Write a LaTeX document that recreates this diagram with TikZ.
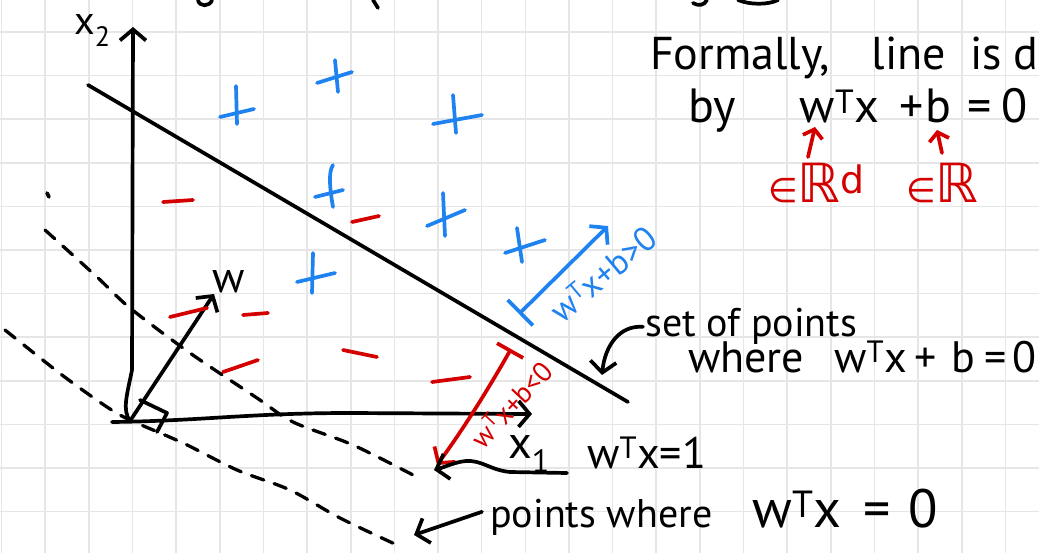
\documentclass[tikz,border=0pt]{standalone}
\usepackage{fontspec}
\setmainfont{PT Sans}
\newfontfamily\symfont{DejaVu Sans}
\usetikzlibrary{arrows.meta}
\definecolor{gridc}{HTML}{E6E6E6}
\definecolor{inkblue}{HTML}{1E82F0}
\definecolor{inkred}{HTML}{D40000}
\begin{document}
\begin{tikzpicture}[x=1pt,y=-1pt,
  ink/.style={line width=3.7pt, line cap=round, line join=round},
  barb/.style={-{Straight Barb[length=11pt,width=26pt]}},
  smallbarb/.style={-{Straight Barb[length=8pt,width=20pt]}},
  dashink/.style={line width=3.3pt, line cap=round, dash pattern=on 13pt off 11pt},
  hand/.style={inner sep=0pt, anchor=base west},
  gridline/.style={gridc, line width=1.6pt}]
\useasboundingbox (0,0) rectangle (1039,553);
\clip (0,0) rectangle (1039,553);
\fill[white] (0,0) rectangle (1039,553);
\foreach \k in {0,...,23} \draw[gridline] ({1.5+43.65*\k},0) -- ({1.5+43.65*\k},553);
\foreach \k in {0,...,11} \draw[gridline] (0,{32+43.6*\k}) -- (1039,{32+43.6*\k});

% fragments of writing cut off at the top
\draw[ink] (198,0) .. controls (199,7) and (210,7) .. (212,0);
\draw[ink] (373,0) -- (378,8);
\draw[ink] (693,3) .. controls (698,6) and (704,6) .. (707,0);
\draw[ink] (738,0) .. controls (750,5) and (768,5) .. (778,0);

% axes
\coordinate (O) at (130,421);
\coordinate (x2top) at (133,27);
\coordinate (x1start) at (112,422);
\coordinate (x1end) at (532,414);
\draw[ink,barb] (O) .. controls (122,410) and (127,395) .. (132,370) -- (x2top);
\draw[ink,barb] (x1start) .. controls (200,421) and (250,413) .. (350,413) -- (x1end);
\node[hand, font=\fontsize{40}{42}\selectfont] (x2lab) at (74,35) {x\textsubscript{2}};
\node[hand, font=\fontsize{46}{48}\selectfont] (x1lab) at (508,458) {x\textsubscript{1}};

% decision boundary
\coordinate (b1) at (88,85);
\coordinate (b2) at (628,402);
\draw[ink] (b1) -- (b2);

% dashed lines
\draw[dashink] plot[smooth] coordinates {(5,330) (62,375) (107,407) (130,420) (183,443) (237,470) (290,490) (340,518) (397,545)};
\draw[dashink] plot[smooth] coordinates {(45,230) (97,277) (130,308) (190,353) (257,398) (293,422) (353,445) (415,476)};
\draw[ink] (47,193) -- (49,197);

% w vector and right angle
\coordinate (wend) at (214,294);
\draw[ink,barb] (O) -- (wend);
\node[hand, font=\fontsize{44}{46}\selectfont] (wlab) at (212,293) {w};
\draw[ink] (140,400) -- (167,413) -- (157,432);

% blue plus signs
\begin{scope}[ink, inkblue]
\draw (236,86) -- (237,124); \draw (220,117) -- (254,109);
\draw (335,60) -- (338,92); \draw (317,83) -- (352,72);
\draw (453,95) -- (456,133); \draw (433,124) -- (482,115);
\draw (333,165) .. controls (328,172) and (330,190) .. (333,207); \draw (315,197) -- (343,190);
\draw (443,193) -- (445,236); \draw (427,226) -- (465,210);
\draw (313,253) -- (312,293); \draw (297,282) -- (335,273);
\draw (517,228) -- (522,262); \draw (505,253) -- (545,240);
\end{scope}

% red minus signs
\begin{scope}[ink, inkred]
\draw (163,202) -- (193,200);
\draw (352,222) -- (379,216);
\draw (170,317) -- (207,308);
\draw (243,315) -- (268,313);
\draw (223,372) -- (258,360);
\draw (343,350) -- (377,357);
\draw (432,382) -- (470,377);
\end{scope}

% blue margin arrow
\coordinate (bstart) at (519,314);
\coordinate (bend) at (608,226);
\draw[ink, inkblue, {Bar[width=36pt]}-{Straight Barb[length=11pt,width=26pt]}] (bstart) -- (bend);
\node[inkblue, inner sep=0pt, rotate=40, font=\fontsize{34}{36}\selectfont] (blab) at (603,274) {w\textsuperscript{T}x+b>0};

% red margin arrow
\coordinate (rstart) at (511,349);
\coordinate (rend) at (437,465);
\draw[ink, inkred, {Bar[width=30pt]}-{Straight Barb[length=11pt,width=26pt]}] (rstart) .. controls (498,372) and (470,420) .. (rend);
\node[inkred, inner sep=0pt, rotate=47, font=\fontsize{28}{30}\selectfont] (rlab) at (511,404) {w\textsuperscript{T}x+b<0};

% labels on the right
\node[hand, font=\fontsize{46}{48}\selectfont] (formally) at (650,70) {Formally,\hspace{42pt}line\hspace{24pt}is\hspace{12pt}defined};
\node[hand, font=\fontsize{48}{50}\selectfont] (by) at (688,123) {by\hspace{64pt}w\textsuperscript{T}x\hspace{20pt}+\hspace{2pt}b\hspace{16pt}=\hspace{10pt}0};
\node[hand, inkred, font=\symfont] (rd) at (768,203) {{\fontsize{34}{36}\selectfont ∈}{\fontsize{54}{56}\selectfont ℝ\textsuperscript{d}}};
\node[hand, inkred, font=\symfont] (r1) at (906,203) {{\fontsize{34}{36}\selectfont ∈}{\fontsize{54}{56}\selectfont ℝ}};
\coordinate (wtop) at (815,127);
\coordinate (btop) at (937,130);
\coordinate (rdfoot) at (808,157);
\coordinate (r1foot) at (942,153);
\draw[ink, inkred, smallbarb] (rdfoot) -- (wtop);
\draw[ink, inkred, smallbarb] (r1foot) -- (btop);

\node[hand, font=\fontsize{40}{42}\selectfont] (setpts) at (645,337) {set of points};
\node[hand, font=\fontsize{44}{46}\selectfont] (where1) at (688,372) {where\hspace{30pt}w\textsuperscript{T}x\hspace{8pt}+\hspace{14pt}b\hspace{10pt}=\hspace{5pt}0};
\coordinate (bpt) at (602,375);
\draw[ink, barb] ([xshift=-2pt]setpts.west) .. controls (620,325) and (605,345) .. (bpt);

\node[hand, font=\fontsize{44}{46}\selectfont] (wtx1) at (587,468) {w\textsuperscript{T}x=1};
\coordinate (d1pt) at (434,470);
\coordinate (wtx1start) at (567,473);
\draw[ink, barb] (wtx1start) -- (510,472) .. controls (490,470) and (482,460) .. (466,461) .. controls (455,462) and (445,467) .. (d1pt);

\node[hand, font=\fontsize{40}{42}\selectfont] (pw) at (490,527) {points where\hspace{40pt}{\fontsize{54}{56}\selectfont w\textsuperscript{T}x\hspace{22pt}=\hspace{18pt}0}};
\coordinate (d0pt) at (414,535);
\draw[ink, barb] ([xshift=-8pt]pw.west) -- (d0pt);
\end{tikzpicture}
\end{document}
